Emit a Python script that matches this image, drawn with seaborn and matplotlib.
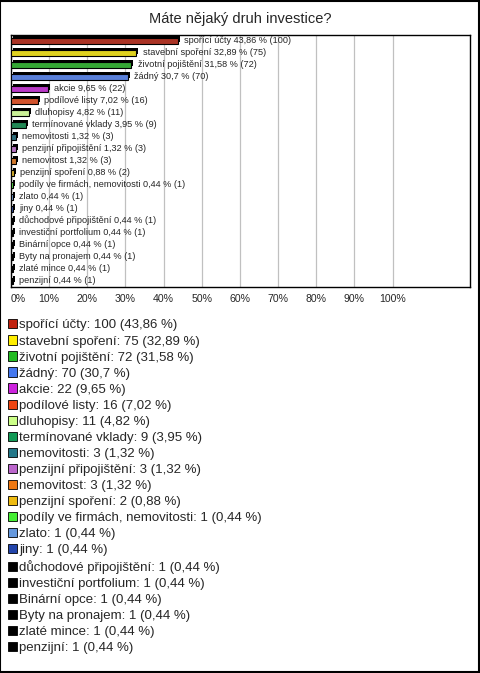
import pandas as pd
import numpy as np
import seaborn as sns
import matplotlib.pyplot as plt
import matplotlib.patheffects as pe
from matplotlib.patches import Patch, Rectangle

# data
categories = ["spořící účty", "stavební spoření", "životní pojištění", "žádný", "akcie",
              "podílové listy", "dluhopisy", "termínované vklady", "nemovitosti",
              "penzijní připojištění", "nemovitost", "penzijní spoření",
              "podíly ve firmách, nemovitosti", "zlato", "jiny", "důchodové připojištění",
              "investiční portfolium", "Binární opce", "Byty na pronajem", "zlaté mince", "penzijní"]
counts = [100, 75, 72, 70, 22, 16, 11, 9, 3, 3, 3, 2, 1, 1, 1, 1, 1, 1, 1, 1, 1]
percents = [43.86, 32.89, 31.58, 30.7, 9.65, 7.02, 4.82, 3.95, 1.32, 1.32, 1.32, 0.88,
            0.44, 0.44, 0.44, 0.44, 0.44, 0.44, 0.44, 0.44, 0.44]
colors = ["#c0220f", "#ffee00", "#22bb22", "#4477ee", "#cc22dd", "#ee4411", "#ccff88",
          "#119955", "#227788", "#bb66cc", "#ee7711", "#eebb11", "#44ee33", "#6699dd",
          "#2244aa", "#000000", "#000000", "#000000", "#000000", "#000000", "#000000"]
x_ticks = [0, 10, 20, 30, 40, 50, 60, 70, 80, 90, 100]


def fmt(v):
    return ("%g" % v).replace(".", ",")


sns.set_style("white")
plt.rcParams['font.family'] = ['Liberation Sans', 'DejaVu Sans']

df = pd.DataFrame({"kategorie": categories, "procenta": percents, "pocet": counts})

fig = plt.figure(figsize=(4.8, 6.73), dpi=100)
ax = fig.add_axes([11/480, 1-287/673, (470-11)/480, (287-35)/673])

sns.barplot(data=df, x="procenta", y="kategorie", hue="kategorie", palette=colors,
            orient="h", width=0.45, edgecolor="black", linewidth=0.8,
            legend=False, ax=ax, zorder=3)

for p in ax.patches:
    p.set_path_effects([pe.SimplePatchShadow(offset=(1.4, 1.4), shadow_rgbFace="black", alpha=1),
                        pe.Normal()])

for i, (c, pc, n) in enumerate(zip(categories, percents, counts)):
    ax.text(pc + 1.6, i - 0.08, f"{c} {fmt(pc)} % ({n})", fontsize=6.6,
            va="center", ha="left", zorder=4)

ax.set_xlim(0, 120.3)
ax.set_ylim(20.5, -0.5)
ax.set_xticks(x_ticks)
ax.set_xticklabels([f"{t}%" for t in x_ticks], fontsize=7.6)
ax.get_xticklabels()[0].set_ha("left")
ax.set_yticks([])
ax.set_xlabel("")
ax.set_ylabel("")
ax.tick_params(axis="x", length=0, pad=5)
ax.grid(axis="x", color="#c0c0c0", linewidth=0.9, zorder=0)
for s in ax.spines.values():
    s.set_color("black")
    s.set_linewidth(1.0)

fig.text(0.5, 1-19/673, "Máte nějaký druh investice?", ha="center", va="center", fontsize=10.5)

handles = [Patch(facecolor=col, edgecolor="black", linewidth=0.6) for col in colors]
labels = [f"{c}: {n} ({fmt(pc)} %)" for c, n, pc in zip(categories, counts, percents)]
fig.legend(handles, labels, loc="upper left", bbox_to_anchor=(-1/480, 1-310/673),
           frameon=False, fontsize=9.5, handlelength=0.7, handleheight=0.7,
           handletextpad=0.15, labelspacing=0.29, borderpad=0.2)

fig.patches.append(Rectangle((0.001, 0.001), 0.996, 0.997, transform=fig.transFigure,
                             fill=False, edgecolor="black", linewidth=1.5))

plt.savefig("out.png", dpi=100)
